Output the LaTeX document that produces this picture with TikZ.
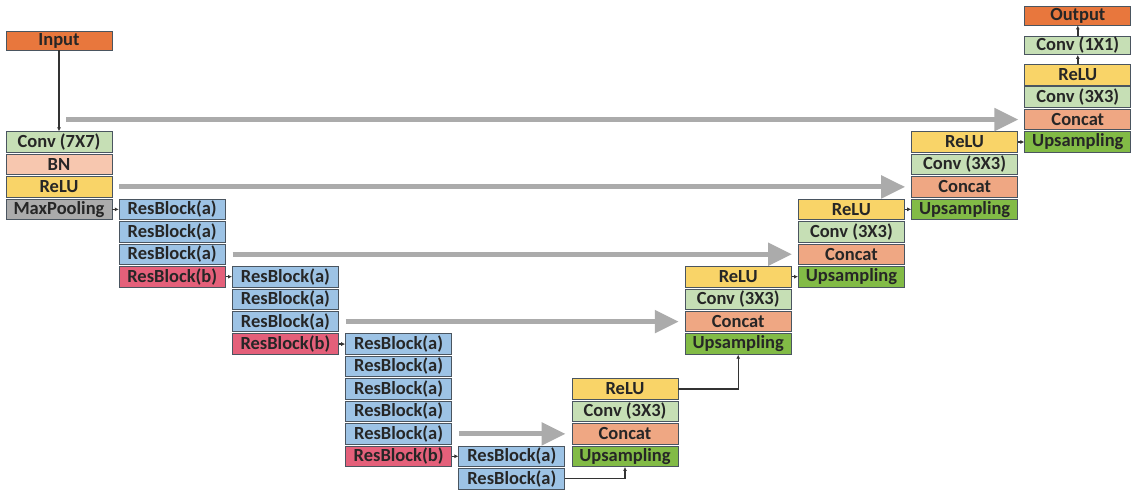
\documentclass[tikz,border=0pt]{standalone}
\usepackage{fontspec}
\setmainfont{Carlito}
\usetikzlibrary{arrows.meta}

\definecolor{ioorange}{HTML}{E8773D}
\definecolor{convgreen}{HTML}{C6DFB5}
\definecolor{bnpink}{HTML}{F7C7AF}
\definecolor{reluyellow}{HTML}{F9D468}
\definecolor{poolgray}{HTML}{ABABAB}
\definecolor{resblue}{HTML}{9DC3E5}
\definecolor{resred}{HTML}{E4607A}
\definecolor{catsalmon}{HTML}{EFA783}
\definecolor{upgreen}{HTML}{82BB46}
\definecolor{boxedge}{HTML}{4A5560}
\definecolor{textdark}{HTML}{262626}
\definecolor{skipgray}{HTML}{ABABAB}
\definecolor{linkdark}{HTML}{333333}

\tikzset{
  layer/.style={draw=boxedge, line width=0.8pt, minimum width=106pt,
    minimum height=20.5pt, inner sep=0pt, text=textdark,
    font=\bfseries\fontsize{18.5}{18.5}\selectfont},
  iobox/.style={layer, fill=ioorange, minimum height=19pt},
  convbox/.style={layer, fill=convgreen},
  bnbox/.style={layer, fill=bnpink},
  relubox/.style={layer, fill=reluyellow},
  poolbox/.style={layer, fill=poolgray},
  resa/.style={layer, fill=resblue},
  resb/.style={layer, fill=resred},
  catbox/.style={layer, fill=catsalmon},
  upbox/.style={layer, fill=upgreen},
  skiparrow/.style={draw=skipgray, line width=5pt,
    -{Triangle[length=24pt,width=22pt]}},
  flowarrow/.style={draw=linkdark, line width=1.4pt,
    -{Latex[length=4pt,width=4pt]}},
}

\begin{document}
\begin{tikzpicture}[x=1pt,y=-1pt]
    % Page size and background
    \fill[white] (0,0) rectangle (1142,495);
    \useasboundingbox (0,0) rectangle (1142,495);

    % Input and stem
    \node[iobox] (input) at (59,40.5) {Input};
    \node[convbox] (conv7) at (59,142) {Conv (7X7)};
    \node[bnbox] (bn) at (59,164.45) {BN};
    \node[relubox] (relu0) at (59,186.9) {ReLU};
    \node[poolbox] (maxpool) at (59,209.35) {MaxPooling};

    % Encoder stage 1
    \node[resa] (e1a) at (172.2,209.35) {ResBlock(a)};
    \node[resa] (e1b) at (172.2,231.8) {ResBlock(a)};
    \node[resa] (e1c) at (172.2,254.25) {ResBlock(a)};
    \node[resb] (e1d) at (172.2,276.7) {ResBlock(b)};

    % Encoder stage 2
    \node[resa] (e2a) at (285.4,276.7) {ResBlock(a)};
    \node[resa] (e2b) at (285.4,299.15) {ResBlock(a)};
    \node[resa] (e2c) at (285.4,321.6) {ResBlock(a)};
    \node[resb] (e2d) at (285.4,344.05) {ResBlock(b)};

    % Encoder stage 3
    \node[resa] (e3a) at (398.6,344.05) {ResBlock(a)};
    \node[resa] (e3b) at (398.6,366.5) {ResBlock(a)};
    \node[resa] (e3c) at (398.6,388.95) {ResBlock(a)};
    \node[resa] (e3d) at (398.6,411.4) {ResBlock(a)};
    \node[resa] (e3e) at (398.6,433.85) {ResBlock(a)};
    \node[resb] (e3f) at (398.6,456.3) {ResBlock(b)};

    % Encoder stage 4
    \node[resa] (e4a) at (511.8,456.3) {ResBlock(a)};
    \node[resa] (e4b) at (511.8,478.75) {ResBlock(a)};

    % Decoder stage 1
    \node[relubox] (d1relu) at (625,388.95) {ReLU};
    \node[convbox] (d1conv) at (625,411.4) {Conv (3X3)};
    \node[catbox] (d1cat) at (625,433.85) {Concat};
    \node[upbox] (d1up) at (625,456.3) {Upsampling};

    % Decoder stage 2
    \node[relubox] (d2relu) at (738.2,276.7) {ReLU};
    \node[convbox] (d2conv) at (738.2,299.15) {Conv (3X3)};
    \node[catbox] (d2cat) at (738.2,321.6) {Concat};
    \node[upbox] (d2up) at (738.2,344.05) {Upsampling};

    % Decoder stage 3
    \node[relubox] (d3relu) at (851.4,209.35) {ReLU};
    \node[convbox] (d3conv) at (851.4,231.8) {Conv (3X3)};
    \node[catbox] (d3cat) at (851.4,254.25) {Concat};
    \node[upbox] (d3up) at (851.4,276.7) {Upsampling};

    % Decoder stage 4
    \node[relubox] (d4relu) at (964.6,142) {ReLU};
    \node[convbox] (d4conv) at (964.6,164.45) {Conv (3X3)};
    \node[catbox] (d4cat) at (964.6,186.9) {Concat};
    \node[upbox] (d4up) at (964.6,209.35) {Upsampling};

    % Decoder stage 5 and output
    \node[relubox] (d5relu) at (1077.8,74.65) {ReLU};
    \node[convbox] (d5conv) at (1077.8,97.1) {Conv (3X3)};
    \node[catbox] (d5cat) at (1077.8,119.55) {Concat};
    \node[upbox] (d5up) at (1077.8,142) {Upsampling};
    \node[convbox, minimum height=18pt] (conv1) at (1077.8,45.5) {Conv (1X1)};
    \node[iobox] (output) at (1077.8,15.5) {Output};

    % Skip connections
    \coordinate (skip0) at (66,119.55);
    \draw[skiparrow] (skip0) -- ([xshift=-6pt]d5cat.west);
    \draw[skiparrow] ([xshift=7pt]relu0.east) -- ([xshift=-6pt]d4cat.west);
    \draw[skiparrow] ([xshift=7pt]e1c.east) -- ([xshift=-6pt]d3cat.west);
    \draw[skiparrow] ([xshift=7pt]e2c.east) -- ([xshift=-6pt]d2cat.west);
    \draw[skiparrow] ([xshift=7pt]e3e.east) -- ([xshift=-6pt]d1cat.west);

    % Main path
    \draw[flowarrow] (input) -- (conv7);
    \draw[flowarrow] (maxpool) -- (e1a);
    \draw[flowarrow] (e1d) -- (e2a);
    \draw[flowarrow] (e2d) -- (e3a);
    \draw[flowarrow] (e3f) -- (e4a);
    \draw[flowarrow] (e4b.east) -| (d1up.south);
    \draw[flowarrow] (d1relu.east) -| (d2up.south);
    \draw[flowarrow] (d2relu) -- (d3up);
    \draw[flowarrow] (d3relu) -- (d4up);
    \draw[flowarrow] (d4relu) -- (d5up);
    \draw[flowarrow] (d5relu) -- (conv1);
    \draw[flowarrow] (conv1) -- (output);

\end{tikzpicture}
\end{document}
